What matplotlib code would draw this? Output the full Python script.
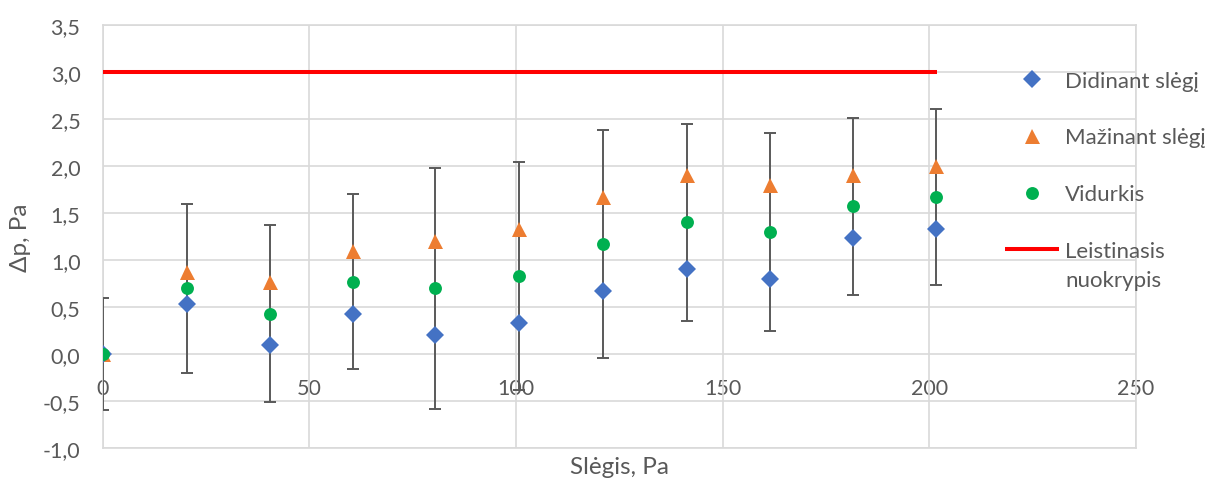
import matplotlib
matplotlib.use("Agg")
import matplotlib.pyplot as plt
from matplotlib.ticker import FuncFormatter, MultipleLocator

# ---- data ----
pressure = [0, 20.4, 40.4, 60.6, 80.5, 100.8, 121.0, 141.3, 161.4, 181.5, 201.6]
increasing = [0.00, 0.53, 0.10, 0.43, 0.20, 0.33, 0.67, 0.90, 0.80, 1.23, 1.33]
decreasing = [0.00, 0.87, 0.77, 1.10, 1.20, 1.33, 1.67, 1.90, 1.80, 1.90, 2.00]
average = [0.00, 0.70, 0.43, 0.77, 0.70, 0.83, 1.17, 1.40, 1.30, 1.57, 1.67]
avg_err = [0.60, 0.90, 0.94, 0.93, 1.28, 1.21, 1.21, 1.05, 1.05, 0.94, 0.94]
limit_x = [0, 201.8]
limit_y = [3.0, 3.0]

labels = ["Didinant slėgį", "Mažinant slėgį", "Vidurkis", "Leistinasis", "nuokrypis"]
x_label = "Slėgis, Pa"
y_label = "Δp, Pa"
x_ticks = [0, 50, 100, 150, 200, 250]
y_min, y_max = -1.0, 3.5

# ---- style ----
FONT = ["Lato", "DejaVu Sans"]
plt.rcParams["font.family"] = FONT
TXT = "#595959"
GRID = "#D9D9D9"
FS_TICK = 15.5
FS_LEG = 16
FS_TITLE = 17.5

W, H = 1205, 481
fig = plt.figure(figsize=(W / 100, H / 100), dpi=100)
ax = fig.add_axes([102.7 / W, 1 - 449 / H, (1136 - 102.7) / W, (449 - 26) / H])

ax.set_xlim(0, 250)
ax.set_ylim(y_min, y_max)
ax.set_xticks(x_ticks)
ax.yaxis.set_major_locator(MultipleLocator(0.5))
ax.grid(True, color=GRID, linewidth=1.2, zorder=0)
ax.set_axisbelow(True)
for s in ax.spines.values():
    s.set_color(GRID)
    s.set_linewidth(1.2)
    s.set_zorder(0.6)
ax.tick_params(axis="both", length=0)
ax.tick_params(axis="x", labelbottom=False)
ax.tick_params(axis="y", labelsize=FS_TICK, labelcolor=TXT, pad=16)
ax.yaxis.set_major_formatter(FuncFormatter(lambda v, p: f"{v:.1f}".replace(".", ",")))

# x tick labels on the y=0 line
sec = ax.secondary_xaxis((0 - y_min) / (y_max - y_min))
sec.set_xticks(x_ticks)
sec.spines["bottom"].set_visible(False)
sec.tick_params(length=0, labelsize=FS_TICK, labelcolor=TXT, pad=17)
sec.xaxis.set_major_formatter(FuncFormatter(lambda v, p: f"{v:.0f}"))

# data
ax.errorbar(pressure, average, yerr=avg_err, fmt="none", ecolor="#595959",
            elinewidth=1.4, capsize=4.3, capthick=1.4, zorder=2)
ax.plot(pressure, decreasing, linestyle="none", marker="^", ms=10.8, mew=0,
        color="#ED7D31", label=labels[1], zorder=3)
ax.plot(pressure, increasing, linestyle="none", marker="D", ms=8.7, mew=0,
        color="#4472C4", label=labels[0], zorder=4)
ax.plot(pressure, average, linestyle="none", marker="o", ms=9.3, mew=0,
        color="#00B050", label=labels[2], zorder=5)
ax.plot(limit_x, limit_y, color="#FF0000", linewidth=2.9, solid_capstyle="butt",
        label=labels[3], zorder=3)

ax.set_xlabel(x_label, fontsize=FS_TITLE, color=TXT)
ax.xaxis.set_label_coords(0.5, (449 - 468) / 423)
ax.xaxis.label.set_va("center")
ax.set_ylabel(y_label, fontsize=FS_TITLE, color=TXT)
ax.yaxis.set_label_coords((20.5 - 102.7) / 1033.3, 0.5)
ax.yaxis.label.set_va("center")

handles, labs = ax.get_legend_handles_labels()
order = [labs.index(l) for l in labels[:4]]
FSP = FS_LEG * 100 / 72
leg = fig.legend([handles[i] for i in order], [labs[i] for i in order],
                 loc="upper left", bbox_to_anchor=(1005 / W, 1 - 71.5 / H),
                 frameon=False, fontsize=FS_LEG, labelcolor=TXT,
                 handlelength=54 / FSP, handletextpad=6 / FSP, labelspacing=1.66,
                 borderpad=0, borderaxespad=0)

fig.canvas.draw()
t = leg.get_texts()[3]
bb = t.get_window_extent()
inv = fig.transFigure.inverted()
x0, yc = inv.transform((bb.x0, (bb.y0 + bb.y1) / 2))
fig.text(x0, yc - 28.5 / H, labels[4], fontsize=FS_LEG, color=TXT, va="center", ha="left")

fig.savefig("out.png", dpi=100)
